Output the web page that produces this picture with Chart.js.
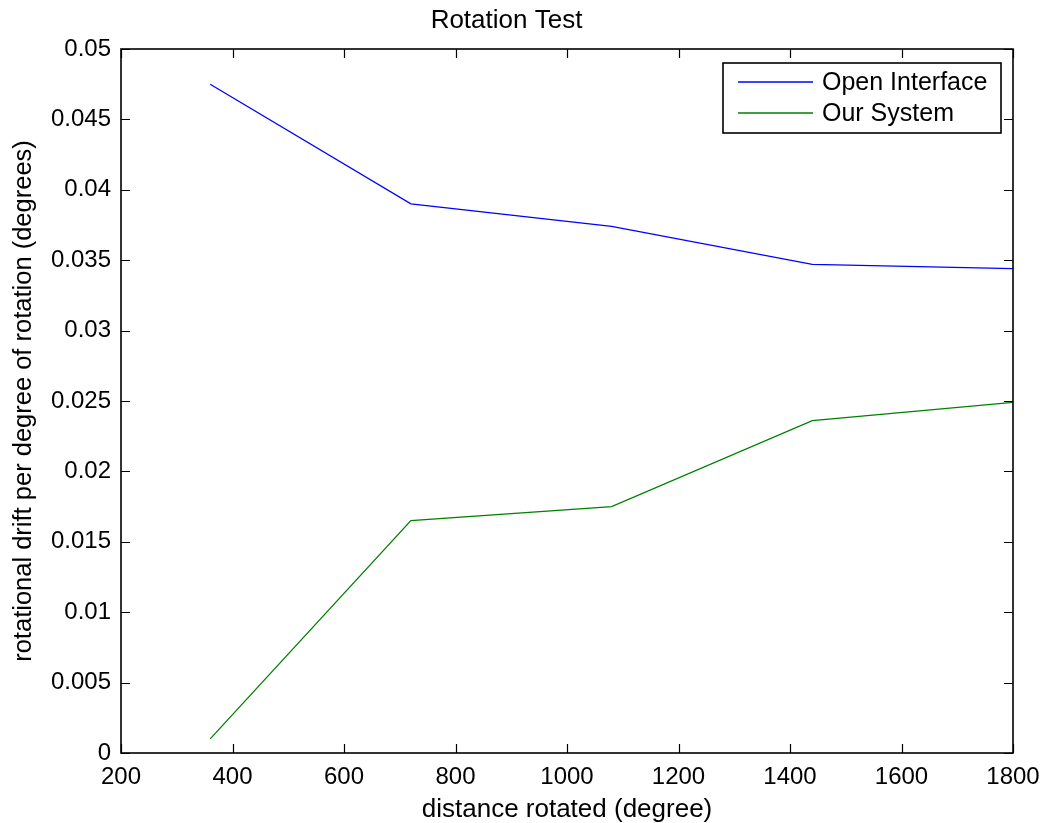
<!DOCTYPE html>
<html>
<head>
<meta charset="utf-8">
<script src="https://cdn.jsdelivr.net/npm/chart.js@4"></script>
<style>
  html, body { margin: 0; padding: 0; background: #fff; }
  #wrap { width: 1047px; height: 823px; }
</style>
</head>
<body>
<div id="wrap"><canvas id="myChart" width="1047" height="823"></canvas></div>
<script>
// datos
const distancias = [360, 720, 1080, 1440, 1800];
const openInterface = [0.0475, 0.0390, 0.0374, 0.0347, 0.0344];
const ourSystem = [0.0010, 0.0165, 0.0175, 0.0236, 0.0249];

const xTicks = [200, 400, 600, 800, 1000, 1200, 1400, 1600, 1800];
const xTickLabels = ['200', '400', '600', '800', '1000', '1200', '1400', '1600', '1800'];
const yTicks = [0, 0.005, 0.01, 0.015, 0.02, 0.025, 0.03, 0.035, 0.04, 0.045, 0.05];
const yTickLabels = ['0', '0.005', '0.01', '0.015', '0.02', '0.025', '0.03', '0.035', '0.04', '0.045', '0.05'];

const fuente = '"Liberation Sans", Arial, Helvetica, sans-serif';
Chart.defaults.font.family = fuente;
Chart.defaults.color = '#000';

// marco tipo MATLAB: caja + marcas hacia dentro + leyenda
const marcoMatlab = {
  id: 'marcoMatlab',
  afterDatasetsDraw(chart) {
    const { ctx, chartArea: a, scales } = chart;
    const largo = 9;
    ctx.save();
    ctx.strokeStyle = '#000';
    ctx.lineWidth = 1.2;
    ctx.beginPath();
    scales.x.ticks.forEach(t => {
      const px = Math.round(scales.x.getPixelForValue(t.value)) + 0.5;
      ctx.moveTo(px, a.bottom); ctx.lineTo(px, a.bottom - largo);
      ctx.moveTo(px, a.top); ctx.lineTo(px, a.top + largo);
    });
    scales.y.ticks.forEach(t => {
      const py = Math.round(scales.y.getPixelForValue(t.value)) + 0.5;
      ctx.moveTo(a.left, py); ctx.lineTo(a.left + largo, py);
      ctx.moveTo(a.right, py); ctx.lineTo(a.right - largo, py);
    });
    ctx.stroke();
    ctx.lineWidth = 1.6;
    ctx.strokeRect(a.left, a.top, a.right - a.left, a.bottom - a.top);

    // leyenda
    const lx = 723, ly = 63, lw = 278, lh = 70;
    ctx.fillStyle = '#fff';
    ctx.fillRect(lx, ly, lw, lh);
    ctx.lineWidth = 1.6;
    ctx.strokeRect(lx, ly, lw, lh);
    ctx.font = '25px ' + fuente;
    ctx.textBaseline = 'middle';
    chart.data.datasets.forEach((ds, i) => {
      const y = ly + 19 + i * 31;
      ctx.strokeStyle = ds.borderColor;
      ctx.lineWidth = 1.3;
      ctx.beginPath();
      ctx.moveTo(738, y); ctx.lineTo(813, y);
      ctx.stroke();
      ctx.fillStyle = '#000';
      ctx.fillText(ds.label, 822, y + 1);
    });
    ctx.restore();
  }
};

const ctx = document.getElementById('myChart').getContext('2d');
new Chart(ctx, {
  type: 'line',
  data: {
    datasets: [
      {
        label: 'Open Interface',
        data: distancias.map((x, i) => ({ x: x, y: openInterface[i] })),
        borderColor: '#0000ff',
        borderWidth: 1.3,
        pointRadius: 0,
        tension: 0,
        fill: false
      },
      {
        label: 'Our System',
        data: distancias.map((x, i) => ({ x: x, y: ourSystem[i] })),
        borderColor: '#008000',
        borderWidth: 1.3,
        pointRadius: 0,
        tension: 0,
        fill: false
      }
    ]
  },
  options: {
    responsive: false,
    animation: false,
    layout: { padding: { left: 0, right: 34, top: 0, bottom: 0 } },
    plugins: {
      legend: { display: false },
      tooltip: { enabled: false },
      title: {
        display: true,
        text: 'Rotation Test',
        color: '#000',
        font: { size: 26, weight: 'normal', lineHeight: 1.2 },
        padding: { top: 5, bottom: 12.8 }
      }
    },
    scales: {
      x: {
        type: 'linear',
        min: 200,
        max: 1800,
        afterBuildTicks: s => { s.ticks = xTicks.map(v => ({ value: v })); },
        afterFit: s => { s.height = 70; s.paddingLeft = 0; s.paddingRight = 0; },
        grid: { display: false, drawTicks: false },
        border: { display: false },
        ticks: {
          color: '#000',
          font: { size: 24 },
          padding: 10,
          maxRotation: 0,
          autoSkip: false,
          callback: (v, i) => xTickLabels[i]
        },
        title: {
          display: true,
          text: 'distance rotated (degree)',
          color: '#000',
          font: { size: 26, lineHeight: 1.05 },
          padding: 0
        }
      },
      y: {
        type: 'linear',
        min: 0,
        max: 0.05,
        afterBuildTicks: s => { s.ticks = yTicks.map(v => ({ value: v })); },
        afterFit: s => { s.width = 121; },
        grid: { display: false, drawTicks: false },
        border: { display: false },
        ticks: {
          color: '#000',
          font: { size: 24 },
          padding: 10,
          autoSkip: false,
          callback: (v, i) => yTickLabels[i]
        },
        title: {
          display: true,
          text: 'rotational drift per degree of rotation (degrees)',
          color: '#000',
          font: { size: 25.5, lineHeight: 1.05 },
          padding: { top: 11, bottom: 0 }
        }
      }
    }
  },
  plugins: [marcoMatlab]
});
</script>
</body>
</html>
